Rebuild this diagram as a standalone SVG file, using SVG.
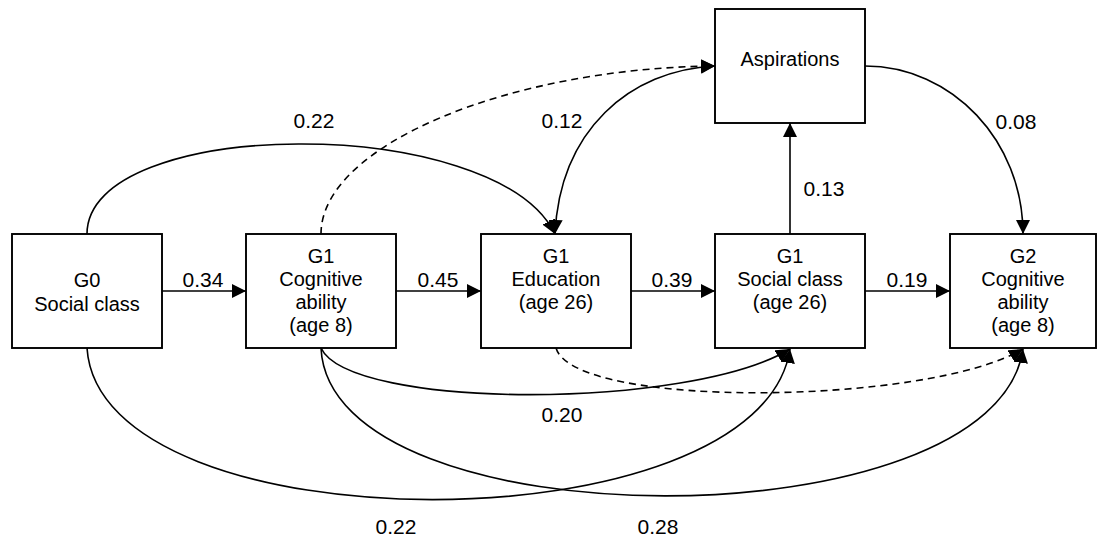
<svg xmlns="http://www.w3.org/2000/svg" width="1098" height="542" viewBox="0 0 1098 542">
<style>
.box{fill:#fff;stroke:#000;stroke-width:1.9}
.t{font-family:"Liberation Sans",Arial,sans-serif;font-size:20px;fill:#000;text-anchor:middle}
.lbl{font-family:"Liberation Sans",Arial,sans-serif;font-size:21px;fill:#000;text-anchor:middle}
.c{fill:none;stroke:#000;stroke-width:1.6;marker-end:url(#ah)}
.d{stroke-dasharray:7 5}
</style>
<defs>
<marker id="ah" markerWidth="15" markerHeight="14" refX="14" refY="7" orient="auto-start-reverse" markerUnits="userSpaceOnUse">
<path d="M0,0 L14,7 L0,14 z" fill="#000"/>
</marker>
</defs>
<rect width="1098" height="542" fill="#fff"/>
<g id="connectors">
<path class="c" d="M162,291 H246"/>
<path class="c" d="M396,291 H481"/>
<path class="c" d="M631,291 H715"/>
<path class="c" d="M865,291 H950"/>
<path class="c" d="M790,234 V123"/>
<path class="c" d="M87,234 C87,116 495,112 555,234"/>
<path class="c d" d="M321,234 C321,145 510,68 715,66"/>
<path class="c" style="marker-start:url(#ah)" d="M555,234 C560,130 630,70 715,66"/>
<path class="c" d="M865,66 C952,66 1023,141 1023,234"/>
<path class="c" d="M321,348 C350,410 690,410 790,349"/>
<path class="c" d="M87,348 C100,550 760,550 790,349"/>
<path class="c" d="M321,348 C330,545 995,545 1023,349"/>
<path class="c d" d="M556,348 C575,410 930,405 1023,349"/>
<text class="lbl" x="203" y="287">0.34</text>
<text class="lbl" x="438" y="287">0.45</text>
<text class="lbl" x="672" y="287">0.39</text>
<text class="lbl" x="907" y="287">0.19</text>
<text class="lbl" x="824" y="196">0.13</text>
<text class="lbl" x="1016" y="129">0.08</text>
<text class="lbl" x="314" y="128">0.22</text>
<text class="lbl" x="562" y="128">0.12</text>
<text class="lbl" x="562" y="422">0.20</text>
<text class="lbl" x="396" y="534">0.22</text>
<text class="lbl" x="658" y="534">0.28</text>
</g>
<g id="g0">
<rect class="box" x="12" y="234" width="150" height="114"/>
<text class="t" x="87" y="287">G0</text>
<text class="t" x="87" y="311">Social class</text>
</g>
<g id="g1cog">
<rect class="box" x="246" y="234" width="150" height="114"/>
<text class="t" x="321" y="263">G1</text>
<text class="t" x="321" y="286">Cognitive</text>
<text class="t" x="321" y="309">ability</text>
<text class="t" x="321" y="332">(age 8)</text>
</g>
<g id="g1edu">
<rect class="box" x="481" y="234" width="150" height="114"/>
<text class="t" x="556" y="263">G1</text>
<text class="t" x="556" y="286">Education</text>
<text class="t" x="556" y="309">(age 26)</text>
</g>
<g id="g1soc">
<rect class="box" x="715" y="234" width="150" height="114"/>
<text class="t" x="790" y="263">G1</text>
<text class="t" x="790" y="286">Social class</text>
<text class="t" x="790" y="309">(age 26)</text>
</g>
<g id="g2cog">
<rect class="box" x="950" y="234" width="146" height="114"/>
<text class="t" x="1023" y="263">G2</text>
<text class="t" x="1023" y="286">Cognitive</text>
<text class="t" x="1023" y="309">ability</text>
<text class="t" x="1023" y="332">(age 8)</text>
</g>
<g id="aspirations">
<rect class="box" x="715" y="9" width="150" height="114"/>
<text class="t" x="790" y="66">Aspirations</text>
</g>
</svg>
